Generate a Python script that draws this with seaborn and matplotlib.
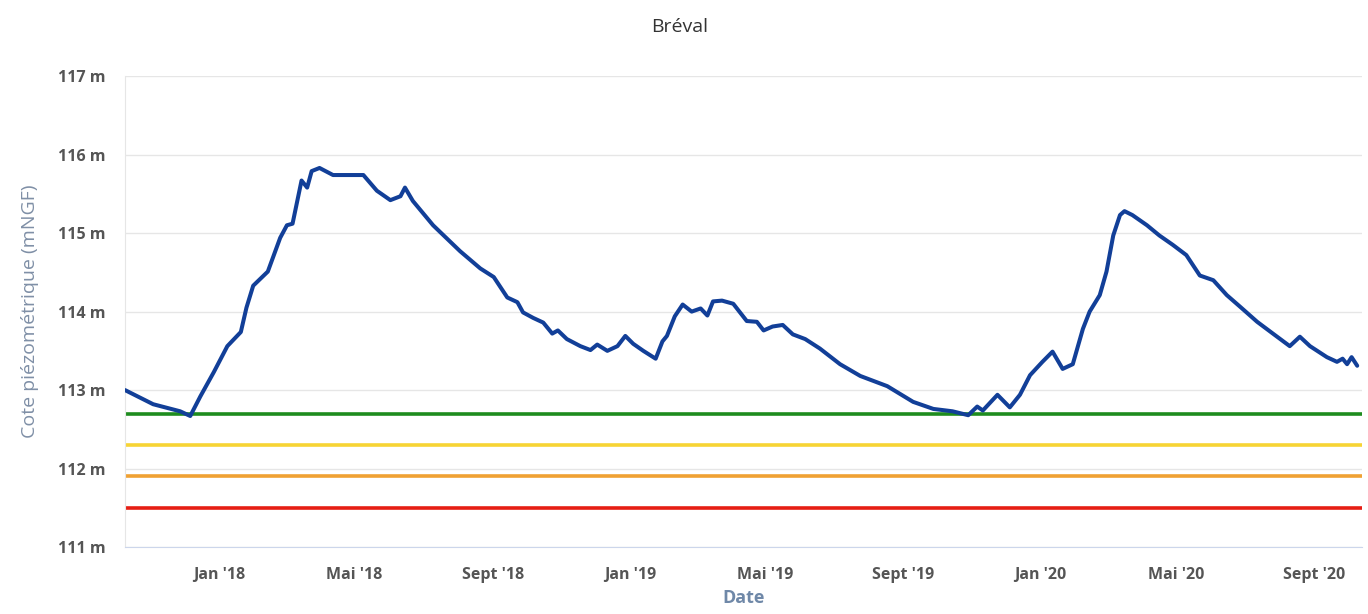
import pandas as pd
import seaborn as sns
import matplotlib.pyplot as plt

# ---------------- Data ----------------
dates = [
    "2017-10-09", "2017-11-03", "2017-11-27", "2017-12-06", "2017-12-15", "2017-12-27",
    "2018-01-08", "2018-01-20", "2018-01-25", "2018-01-31", "2018-02-13", "2018-02-24",
    "2018-03-02", "2018-03-07", "2018-03-15", "2018-03-20", "2018-03-24", "2018-03-31",
    "2018-04-12", "2018-04-30", "2018-05-09", "2018-05-21", "2018-06-02", "2018-06-11",
    "2018-06-15", "2018-06-22", "2018-07-10", "2018-08-03", "2018-08-21", "2018-09-02",
    "2018-09-14", "2018-09-23", "2018-09-28", "2018-10-07", "2018-10-16", "2018-10-24",
    "2018-10-29", "2018-11-06", "2018-11-18", "2018-11-27", "2018-12-03", "2018-12-12",
    "2018-12-21", "2018-12-28", "2019-01-04", "2019-01-13", "2019-01-24", "2019-01-30",
    "2019-02-03", "2019-02-10", "2019-02-17", "2019-02-25", "2019-03-05", "2019-03-11",
    "2019-03-16", "2019-03-24", "2019-04-03", "2019-04-15", "2019-04-24", "2019-04-30",
    "2019-05-08", "2019-05-17", "2019-05-26", "2019-06-06", "2019-06-19", "2019-07-07",
    "2019-07-25", "2019-08-18", "2019-09-10", "2019-09-28", "2019-10-15", "2019-10-29",
    "2019-11-06", "2019-11-11", "2019-11-24", "2019-12-05", "2019-12-14", "2019-12-23",
    "2020-01-03", "2020-01-12", "2020-01-21", "2020-01-30", "2020-02-08", "2020-02-14",
    "2020-02-23", "2020-02-29", "2020-03-06", "2020-03-12", "2020-03-16", "2020-03-23",
    "2020-04-05", "2020-04-16", "2020-04-28", "2020-05-10", "2020-05-22", "2020-06-03",
    "2020-06-15", "2020-06-27", "2020-07-12", "2020-07-26", "2020-08-10", "2020-08-19",
    "2020-08-28", "2020-09-12", "2020-09-21", "2020-09-26", "2020-09-30", "2020-10-04",
    "2020-10-09",
]
levels = [
    113.00, 112.82, 112.73, 112.67, 112.92, 113.23,
    113.56, 113.74, 114.05, 114.33, 114.51, 114.94,
    115.10, 115.12, 115.67, 115.58, 115.79, 115.83,
    115.74, 115.74, 115.74, 115.54, 115.42, 115.47,
    115.58, 115.41, 115.10, 114.77, 114.55, 114.44,
    114.18, 114.12, 113.99, 113.92, 113.86, 113.72,
    113.76, 113.65, 113.56, 113.51, 113.58, 113.50,
    113.56, 113.69, 113.59, 113.50, 113.40, 113.62,
    113.69, 113.94, 114.09, 114.00, 114.04, 113.95,
    114.13, 114.14, 114.10, 113.88, 113.87, 113.76,
    113.81, 113.83, 113.71, 113.65, 113.53, 113.33,
    113.18, 113.05, 112.85, 112.76, 112.73, 112.68,
    112.79, 112.74, 112.94, 112.78, 112.94, 113.19,
    113.36, 113.49, 113.27, 113.33, 113.78, 114.00,
    114.21, 114.51, 114.97, 115.23, 115.28, 115.23,
    115.10, 114.97, 114.85, 114.72, 114.46, 114.40,
    114.21, 114.06, 113.87, 113.72, 113.56, 113.68,
    113.56, 113.42, 113.36, 113.40, 113.33, 113.42,
    113.31,
]

# seuils (vert, jaune, orange, rouge)
threshold_values = [112.7, 112.3, 111.9, 111.5]
threshold_colors = ["#1e8c1e", "#f7d434", "#f0a133", "#e61e14"]

tick_dates = ["2018-01-01", "2018-05-01", "2018-09-01", "2019-01-01", "2019-05-01",
              "2019-09-01", "2020-01-01", "2020-05-01", "2020-09-01"]
tick_labels = ["Jan '18", "Mai '18", "Sept '18", "Jan '19", "Mai '19",
               "Sept '19", "Jan '20", "Mai '20", "Sept '20"]
y_ticks = [111, 112, 113, 114, 115, 116, 117]

df = pd.DataFrame({"Date": pd.to_datetime(dates), "Niveau": levels})

# ---------------- Plot ----------------
sns.set_style("white")
plt.rcParams["font.family"] = ["Open Sans", "DejaVu Sans"]

fig = plt.figure(figsize=(13.68, 6.14), dpi=100)
ax = fig.add_axes([0.0914, 0.109, 0.904, 0.767])

for val, col in zip(threshold_values, threshold_colors):
    ax.axhline(val, color=col, linewidth=2.6, zorder=2)

sns.lineplot(data=df, x="Date", y="Niveau", color="#123f98", linewidth=2.9, ax=ax, zorder=3)

ax.set_xlim(pd.Timestamp("2017-10-09"), pd.Timestamp("2020-10-13"))
ax.set_ylim(111, 117)
ax.set_yticks(y_ticks)
ax.set_yticklabels([f"{v} m" for v in y_ticks], fontsize=11.5, fontweight="bold", color="#555555")
ax.set_xticks(pd.to_datetime(tick_dates))
ax.set_xticklabels(tick_labels, fontsize=11.5, fontweight="bold", color="#555555")

ax.grid(axis="y", color="#e6e6e6", linewidth=1)
ax.grid(axis="x", visible=False)
for side in ["top", "right"]:
    ax.spines[side].set_visible(False)
ax.spines["left"].set_color("#e6e6e6")
ax.spines["bottom"].set_color("#ccd6eb")
ax.tick_params(axis="y", length=0, pad=14)
ax.tick_params(axis="x", length=10, color="#ccd6eb", pad=4)

ax.set_ylabel("Cote piézométrique (mNGF)", fontsize=14, color="#7f8fa6", labelpad=14)
ax.set_xlabel("Date", fontsize=13, fontweight="bold", color="#6f88a8", labelpad=5)
fig.suptitle("Bréval", x=0.497, y=0.97, fontsize=14, color="#333333")

plt.savefig("out.png", dpi=100)
